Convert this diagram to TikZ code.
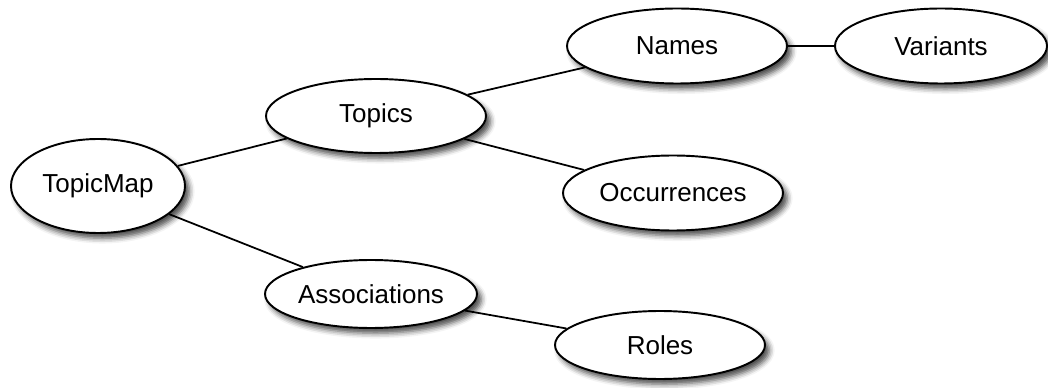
\documentclass[tikz,border=0pt]{standalone}
\usepackage{fontspec}
\setmainfont{Liberation Sans}
\usetikzlibrary{shapes.geometric,shadows.blur}
\tikzset{
  entity/.style={ellipse,draw,line width=1.1pt,fill=white,inner sep=0pt,
    font=\fontsize{14.8}{17}\selectfont,
    blur shadow={shadow xshift=2.5pt,shadow yshift=-3pt,shadow blur radius=3pt,shadow opacity=70}},
  link/.style={line width=1pt}
}
\begin{document}
\begin{tikzpicture}[x=0.02cm,y=-0.02cm]
\useasboundingbox (0,0) rectangle (1048,388);
\node[entity,minimum width=174*0.02cm,minimum height=94*0.02cm] (topicmap) at (98,186) {TopicMap};
\node[entity,minimum width=220*0.02cm,minimum height=74*0.02cm] (topics) at (376,116) {Topics};
\node[entity,minimum width=220*0.02cm,minimum height=75*0.02cm] (names) at (677,46) {Names};
\node[entity,minimum width=212*0.02cm,minimum height=75*0.02cm] (variants) at (941,46) {Variants};
\node[entity,minimum width=220*0.02cm,minimum height=75*0.02cm] (occurrences) at (673,193) {Occurrences};
\node[entity,minimum width=212*0.02cm,minimum height=68*0.02cm] (associations) at (371,294) {Associations};
\node[entity,minimum width=210*0.02cm,minimum height=68*0.02cm] (roles) at (660,345) {Roles};

\draw[link] (topicmap) -- (topics);
\draw[link] (topicmap) -- (associations);
\draw[link] (topics) -- (names);
\draw[link] (topics) -- (occurrences);
\draw[link] (names) -- (variants);
\draw[link] (associations) -- (roles);
\end{tikzpicture}
\end{document}
